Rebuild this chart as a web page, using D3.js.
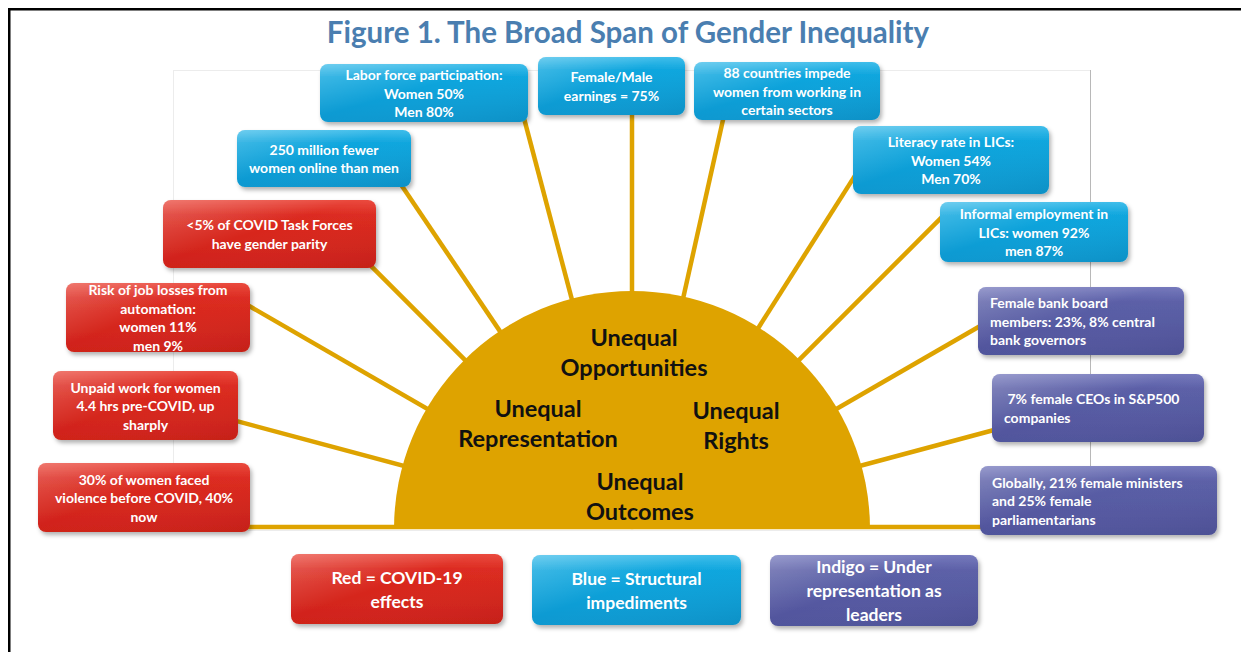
<!DOCTYPE html>
<html>
<head>
<meta charset="utf-8">
<script src="https://d3js.org/d3.v7.min.js"></script>
<style>
  body { margin: 0; background: #fff; }
  svg text { font-family: Lato, "Open Sans", sans-serif; font-weight: 700; }
</style>
</head>
<body>
<div id="chart"></div>
<script>
// ---- data ----
var titleText = "Figure 1. The Broad Span of Gender Inequality";

var boxLabels = [
  ["Labor force participation:", "Women 50%", "Men 80%"],
  ["Female/Male", "earnings = 75%"],
  ["88 countries impede", "women from working in", "certain sectors"],
  ["250 million fewer", "women online than men"],
  ["Literacy rate in LICs:", "Women 54%", "Men 70%"],
  ["<5% of COVID Task Forces", "have gender parity"],
  ["Informal employment in", "LICs: women 92%", "men 87%"],
  ["Risk of job losses from", "automation:", "women 11%", "men 9%"],
  ["Female bank board", "members: 23%, 8% central", "bank governors"],
  ["Unpaid work for women", "4.4 hrs pre-COVID, up", "sharply"],
  ["\u00a07% female CEOs in S&P500", "companies"],
  ["30% of women faced", "violence before COVID, 40%", "now"],
  ["Globally, 21% female ministers", "and 25% female", "parliamentarians"]
];
var boxGroups = ["blue", "blue", "blue", "blue", "blue", "red", "blue",
                 "red", "indigo", "red", "indigo", "red", "indigo"];
// direction of each connector from the centre of the half disc, degrees
var rayAngles = [104.8, 90, 77.4, 124, 57.6, 135, 45, 150, 30, 165, 15, 180, 0];

var centerLabels = [
  ["Unequal", "Opportunities"],
  ["Unequal", "Representation"],
  ["Unequal", "Rights"],
  ["Unequal", "Outcomes"]
];

var legendGroups = ["red", "blue", "indigo"];
var legendLabels = [
  ["Red = COVID-19", "effects"],
  ["Blue = Structural", "impediments"],
  ["Indigo = Under", "representation as", "leaders"]
];

// ---- layout ----
var W = 1241, H = 652;
var cx = 632, cy = 528, R = 238;
var boxLayout = [
  {x: 320, y: 64, w: 208, h: 58},
  {x: 538, y: 57, w: 147, h: 58},
  {x: 694, y: 62, w: 186, h: 58},
  {x: 237, y: 130, w: 174, h: 57},
  {x: 853, y: 126, w: 196, h: 68},
  {x: 163, y: 200, w: 213, h: 68},
  {x: 940, y: 202, w: 188, h: 60},
  {x: 66, y: 283, w: 184, h: 69},
  {x: 978, y: 287, w: 206, h: 68, left: 12},
  {x: 53, y: 371, w: 185, h: 69},
  {x: 992, y: 374, w: 212, h: 68, left: 12},
  {x: 38, y: 463, w: 212, h: 69},
  {x: 980, y: 466, w: 237, h: 69, left: 12}
];
var centerLayout = [
  {x: 634, y: 352}, {x: 538, y: 423}, {x: 736, y: 425}, {x: 640, y: 496}
];
var legendLayout = [
  {x: 291, y: 554, w: 212, h: 70},
  {x: 532, y: 555, w: 209, h: 70},
  {x: 770, y: 555, w: 208, h: 71}
];
var palette = {
  red:    {top: "#ea4a3e", mid: "#dc2a20", bot: "#cf2219"},
  blue:   {top: "#3fbdea", mid: "#0fa6de", bot: "#0b98d0"},
  indigo: {top: "#7579bc", mid: "#5b5fa7", bot: "#50549c"}
};
var gold = "#dea300";

var svg = d3.select("#chart").append("svg")
    .attr("width", W).attr("height", H);
var defs = svg.append("defs");

Object.keys(palette).forEach(function(k) {
  var g = defs.append("linearGradient").attr("id", "grad-" + k)
      .attr("x1", 0).attr("y1", 0).attr("x2", 0).attr("y2", 1);
  g.append("stop").attr("offset", "0%").attr("stop-color", palette[k].top);
  g.append("stop").attr("offset", "22%").attr("stop-color", palette[k].mid);
  g.append("stop").attr("offset", "100%").attr("stop-color", palette[k].bot);
});
var gloss = defs.append("linearGradient").attr("id", "gloss")
    .attr("x1", 0).attr("y1", 0).attr("x2", 1).attr("y2", 1);
gloss.append("stop").attr("offset", "0%").attr("stop-color", "#fff").attr("stop-opacity", 0.25);
gloss.append("stop").attr("offset", "45%").attr("stop-color", "#fff").attr("stop-opacity", 0);
gloss.append("stop").attr("offset", "100%").attr("stop-color", "#000").attr("stop-opacity", 0.05);

var shadow = defs.append("filter").attr("id", "shadow")
    .attr("x", "-10%").attr("y", "-10%").attr("width", "130%").attr("height", "140%");
shadow.append("feDropShadow").attr("dx", 2).attr("dy", 3).attr("stdDeviation", 2)
    .attr("flood-color", "#000").attr("flood-opacity", 0.3);

// page frame (black top/left rules)
svg.append("rect").attr("x", 8).attr("y", 8).attr("width", W - 8).attr("height", 2.5).attr("fill", "#000");
svg.append("rect").attr("x", 8).attr("y", 8).attr("width", 2.5).attr("height", H - 8).attr("fill", "#000");

// title
svg.append("text").attr("x", 628).attr("y", 43)
    .attr("text-anchor", "middle")
    .attr("fill", "#4a7eb0")
    .style("font-size", "29.5px")
    .text(titleText);

// faint picture frame
svg.append("rect").attr("x", 173.5).attr("y", 70.5).attr("width", 917).attr("height", 460)
    .attr("fill", "none").attr("stroke", "#ececec");
svg.append("line").attr("x1", 1090.5).attr("x2", 1090.5).attr("y1", 70).attr("y2", 530)
    .attr("stroke", "#b8b8b8");

// connectors: from the centre outwards until they meet their box
function rayEnd(angleDeg, b) {
  var a = angleDeg * Math.PI / 180;
  var dx = Math.cos(a), dy = -Math.sin(a);
  var tmin = -Infinity, tmax = Infinity;
  [[dx, cx, b.x, b.x + b.w], [dy, cy, b.y, b.y + b.h]].forEach(function(s) {
    if (Math.abs(s[0]) < 1e-9) return;
    var t1 = (s[2] - s[1]) / s[0], t2 = (s[3] - s[1]) / s[0];
    tmin = Math.max(tmin, Math.min(t1, t2));
    tmax = Math.min(tmax, Math.max(t1, t2));
  });
  var t = tmin + 4;
  return [cx + dx * t, cy + dy * t];
}

svg.append("g").selectAll("line")
  .data(rayAngles)
  .join("line")
    .attr("x1", cx).attr("y1", cy - 1)
    .attr("x2", function(d, i) { return rayEnd(d, boxLayout[i])[0]; })
    .attr("y2", function(d, i) { return rayEnd(d, boxLayout[i])[1] - 1; })
    .attr("stroke", gold).attr("stroke-width", 4.5);

// half disc
var arc = d3.arc().innerRadius(0).outerRadius(R)
    .startAngle(-Math.PI / 2).endAngle(Math.PI / 2);
svg.append("path").attr("d", arc()).attr("transform", "translate(" + cx + "," + (cy + 1) + ")")
    .attr("fill", gold);

var cl = svg.append("g").selectAll("text")
  .data(centerLabels)
  .join("text")
    .attr("text-anchor", "middle")
    .attr("fill", "#111")
    .style("font-size", "23.5px");
cl.selectAll("tspan")
  .data(function(d, i) { return d.map(function(t, j) { return {t: t, j: j, n: d.length, p: centerLayout[i]}; }); })
  .join("tspan")
    .attr("x", function(d) { return d.p.x; })
    .attr("y", function(d) { return d.p.y + (d.j - (d.n - 1) / 2) * 29.5; })
    .attr("dominant-baseline", "central")
    .text(function(d) { return d.t; });

// rounded labelled boxes
function drawBoxes(sel, labels, groups, layout, fontSize, lineH) {
  var g = sel.selectAll("g")
    .data(labels)
    .join("g")
      .attr("transform", function(d, i) { return "translate(" + layout[i].x + "," + layout[i].y + ")"; });
  g.append("rect")
    .attr("width", function(d, i) { return layout[i].w; })
    .attr("height", function(d, i) { return layout[i].h; })
    .attr("rx", 8)
    .attr("fill", function(d, i) { return "url(#grad-" + groups[i] + ")"; })
    .attr("filter", "url(#shadow)");
  g.append("rect")
    .attr("width", function(d, i) { return layout[i].w; })
    .attr("height", function(d, i) { return layout[i].h; })
    .attr("rx", 8)
    .attr("fill", "url(#gloss)");
  g.append("text")
    .attr("fill", "#fff")
    .style("font-size", fontSize + "px")
    .attr("text-anchor", function(d, i) { return layout[i].left ? "start" : "middle"; })
    .selectAll("tspan")
    .data(function(d, i) { return d.map(function(t, j) { return {t: t, j: j, n: d.length, b: layout[i]}; }); })
    .join("tspan")
      .attr("x", function(d) { return d.b.left ? d.b.left : d.b.w / 2; })
      .attr("y", function(d) { return d.b.h / 2 + (d.j - (d.n - 1) / 2) * lineH; })
      .attr("dominant-baseline", "central")
      .text(function(d) { return d.t; });
}

drawBoxes(svg.append("g"), boxLabels, boxGroups, boxLayout, 14, 18.5);
drawBoxes(svg.append("g"), legendLabels, legendGroups, legendLayout, 17.5, 24);
</script>
</body>
</html>
